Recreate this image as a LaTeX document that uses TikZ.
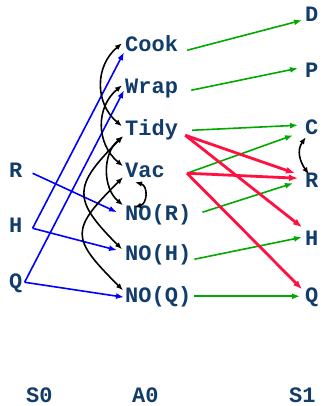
\documentclass[tikz,border=0pt]{standalone}
\usepackage{fontspec}
\usepackage{tikz}
\usetikzlibrary{arrows.meta}
\newfontfamily\plfont{Liberation Mono}
\definecolor{clbl}{HTML}{123D6B}
\definecolor{cpre}{HTML}{0000FF}
\definecolor{cadd}{HTML}{00A800}
\definecolor{cdel}{HTML}{FF1040}
\tikzset{
  lbl/.style={font=\plfont\bfseries\fontsize{22}{22}\selectfont, text=clbl, inner sep=1pt,
    text height=12.5pt, text depth=3pt, anchor=base west},
  pre/.style={-{Latex[length=8pt,width=6pt]}, draw=cpre, line width=1.6pt},
  add/.style={-{Latex[length=8pt,width=6pt]}, draw=cadd, line width=1.6pt},
  del/.style={-{Latex[length=9pt,width=7pt]}, draw=cdel, line width=2.8pt},
  mutex/.style={{Latex[length=7pt,width=5.5pt]}-{Latex[length=7pt,width=5.5pt]}, draw=black, line width=1.6pt},
}

\begin{document}
\begin{tikzpicture}[x=1pt, y=1pt]
\useasboundingbox (0,0) rectangle (322,406);

% ================= levels =================
\foreach \n/\t/\y in {r0/R/228, h0/H/173, q0/Q/117}
  \node[lbl] (\n) at (8,\y) {\t};
\foreach \n/\t/\y in {cook/Cook/354, wrap/Wrap/312, tidy/Tidy/270, vac/Vac/228,
                     nor/NO(R)/185, noh/NO(H)/145, noq/NO(Q)/103}
  \node[lbl] (\n) at (124,\y) {\t};
\foreach \n/\t/\y in {d1/D/384, p1/P/328, c1/C/271, r1/R/218, h1/H/160, q1/Q/103}
  \node[lbl] (\n) at (304,\y) {\t};

\node[lbl, text depth=0pt] (s0) at (25,4) {S0};
\node[lbl, text depth=0pt] (a0) at (131,4) {A0};
\node[lbl, text depth=0pt] (s1) at (288,4) {S1};

% ================= preconditions =================
\draw[pre] ([xshift=9pt]r0.east) -- ([xshift=-7pt,yshift=4pt]nor.west);
\draw[pre] ([xshift=9pt]h0.east) -- ([yshift=-5pt]cook.west);
\draw[pre] ([xshift=9pt]h0.east) -- ([xshift=-7pt,yshift=6pt]noh.west);
\draw[pre] ([xshift=1pt,yshift=2pt]q0.east) -- ([yshift=-1pt]wrap.west);
\draw[pre] ([xshift=1pt,yshift=2pt]q0.east) -- ([yshift=1pt]noq.west);

% ================= add effects =================
\draw[add] ([xshift=8pt,yshift=-3pt]cook.east) -- ([xshift=-2pt,yshift=-3pt]d1.west);
\draw[add] ([xshift=12pt,yshift=-1pt]wrap.east) -- ([xshift=-6pt,yshift=5pt]p1.west);
\draw[add] ([xshift=13pt,yshift=1pt]tidy.east) -- ([xshift=-6pt,yshift=5pt]c1.west);
\draw[add] ([xshift=21pt]vac.east) -- ([xshift=-11pt,yshift=-5pt]c1.west);
\draw[add] ([xshift=10pt,yshift=4pt]nor.east) -- ([xshift=-11pt]r1.west);
\draw[add] ([xshift=2pt,yshift=-3pt]noh.east) -- ([xshift=-2pt,yshift=4pt]h1.west);
\draw[add] ([xshift=2pt,yshift=2pt]noq.east) -- ([xshift=-4pt,yshift=2pt]q1.west);

% ================= delete effects =================
\draw[del] ([xshift=6pt,yshift=-4pt]tidy.east) -- ([xshift=-9pt,yshift=10pt]r1.west);
\draw[del] ([xshift=6pt,yshift=-4pt]tidy.east) -- ([xshift=-2pt,yshift=14pt]h1.west);
\draw[del] ([xshift=21pt]vac.east) -- ([xshift=-6pt,yshift=5pt]r1.west);
\draw[del] ([xshift=21pt]vac.east) -- ([xshift=-2pt,yshift=9pt]q1.west);

% ================= mutexes =================
\draw[mutex] ([xshift=-2pt,yshift=4pt]cook.west) to[out=220,in=140,looseness=1.1] ([xshift=-2pt,yshift=5pt]tidy.west);
\draw[mutex] ([xshift=-2pt,yshift=4pt]wrap.west) to[out=220,in=140,looseness=1.1] ([xshift=-1pt,yshift=7pt]vac.west);
\draw[mutex] ([xshift=-1pt,yshift=-5pt]tidy.west) to[out=220,in=140] ([xshift=-1pt,yshift=11pt]nor.west);
\draw[mutex] ([xshift=-1pt,yshift=-5pt]tidy.west) to[out=225,in=135,looseness=1.6] ([xshift=-2pt,yshift=7pt]noh.west);
\draw[mutex] ([xshift=-1pt,yshift=-4pt]vac.west) to[out=225,in=135,looseness=1.7] ([xshift=-1pt,yshift=8pt]noq.west);
\draw[mutex] ([xshift=-10pt]vac.south) to[out=-15,in=15,looseness=1.4] ([xshift=-24pt]nor.north);
\draw[mutex] ([xshift=-6pt,yshift=2pt]c1.south) to[out=235,in=125,looseness=1.1] ([xshift=-3pt]r1.north);
\end{tikzpicture}
\end{document}
